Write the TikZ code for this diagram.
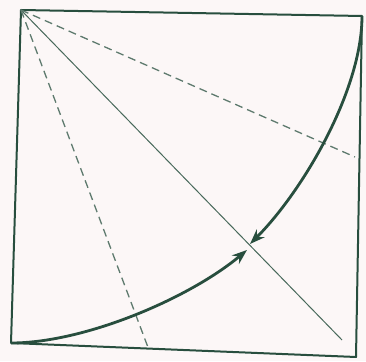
\documentclass[tikz,border=0pt]{standalone}
\usepackage{tikz}
\usetikzlibrary{arrows.meta}

\definecolor{creasegreen}{RGB}{40,78,62}
\definecolor{paperpink}{RGB}{252,247,247}

\begin{document}
\begin{tikzpicture}[x=1pt,y=1pt,
    edge/.style={creasegreen, line width=2pt, line join=round},
    valley/.style={creasegreen!75, line width=1.3pt, dash pattern=on 8pt off 5pt},
    crease/.style={creasegreen!85, line width=1pt},
    movearrow/.style={creasegreen, line width=2.8pt, -{Stealth[length=15pt,width=11pt]}}]
    \fill[paperpink] (0,0) rectangle (366,361);
    \useasboundingbox (0,0) rectangle (366,361);

    % Corners of the square
    \coordinate (tl) at (21,351);
    \coordinate (tr) at (362,345);
    \coordinate (br) at (356,4);
    \coordinate (bl) at (11,18);
    \draw[edge] (tl) -- (tr) -- (br) -- (bl) -- cycle;

    % Diagonal and fold lines
    \coordinate (diagend) at (342,21);
    \coordinate (bottomfold) at (149,11);
    \coordinate (rightfold) at (355,204);
    \draw[crease] (tl) -- (diagend);
    \draw[valley] (tl) -- (bottomfold);
    \draw[valley] (tl) -- (rightfold);

    % Edges swing onto the diagonal
    \coordinate (lowtip) at (247,111);
    \coordinate (uptip) at (250,117);
    \draw[movearrow] (bl) to[out=0,in=220,looseness=0.75] (lowtip);
    \draw[movearrow] (tr) to[out=-90,in=45,looseness=0.75] (uptip);
\end{tikzpicture}
\end{document}
